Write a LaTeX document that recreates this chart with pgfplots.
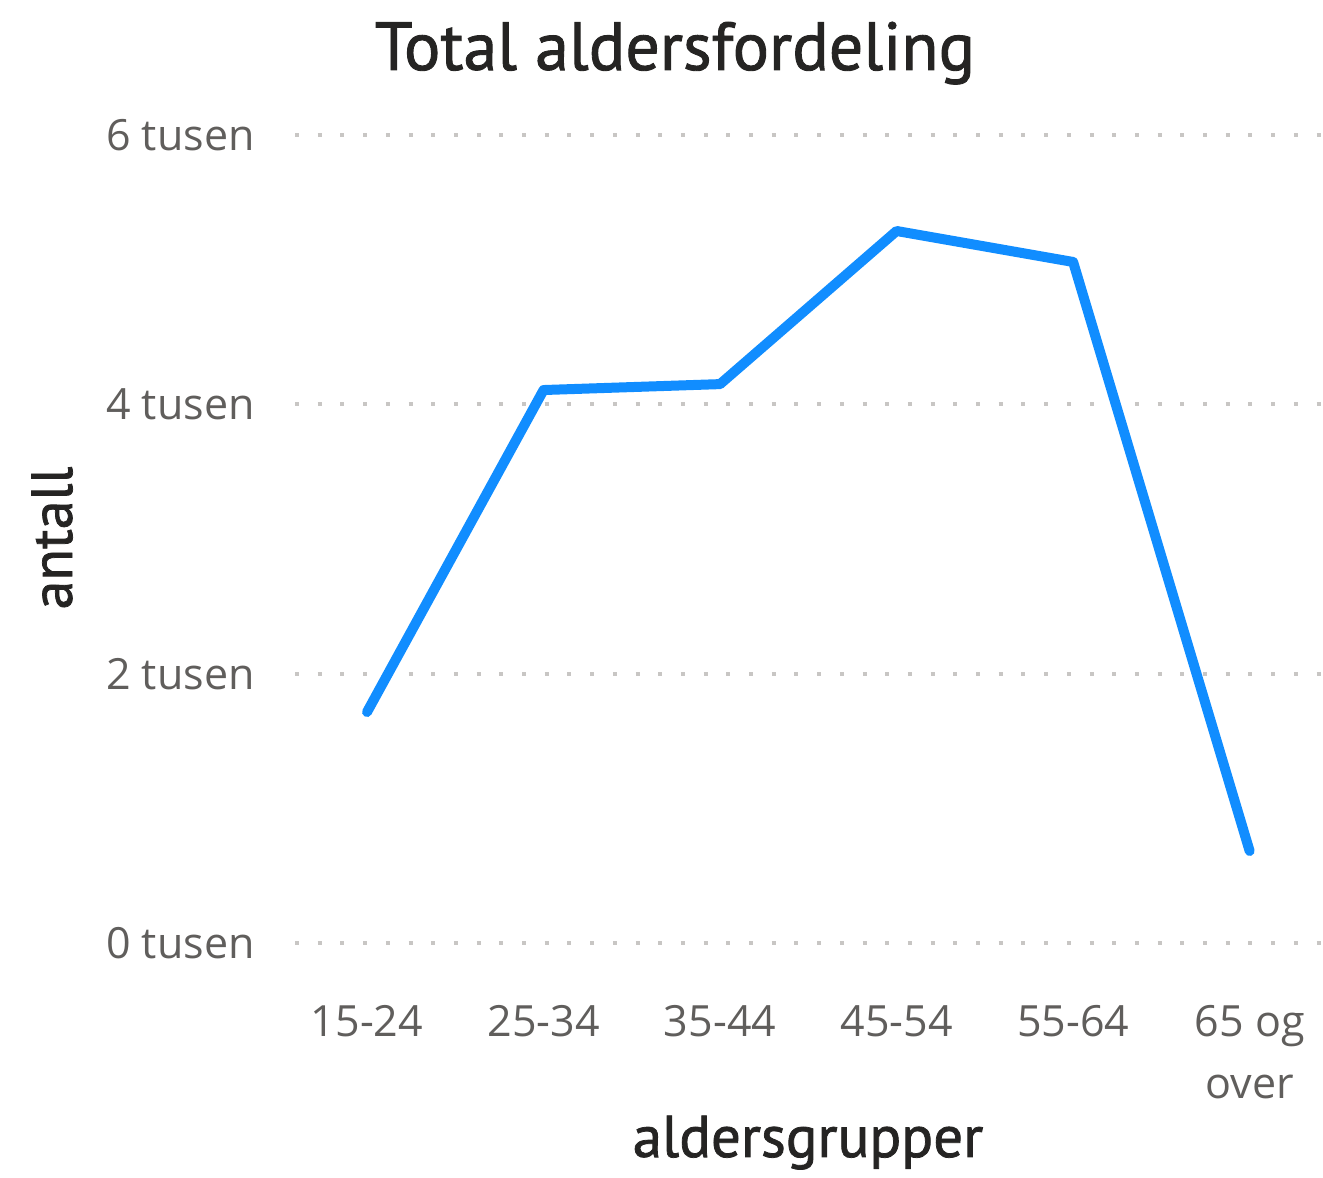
\documentclass[border=0pt]{standalone}
\usepackage{fontspec}
\setmainfont{Open Sans}
\newfontfamily\dinfont[FakeBold=1.3]{PT Sans}
\usepackage{pgfplots}
\pgfplotsset{compat=1.18}
\definecolor{pbiblue}{HTML}{118DFF}
\definecolor{ticktext}{HTML}{605E5C}
\definecolor{titletext}{HTML}{252423}
\definecolor{gridc}{HTML}{C8C6C4}
\begin{document}
\begin{tikzpicture}[x=1bp,y=1bp]
\useasboundingbox (0,0) rectangle (661.5,589);
\begin{axis}[
  at={(147.5bp,117.5bp)}, anchor=south west,
  scale only axis, width=513.5bp, height=404bp,
  xmin=-0.408, xmax=5.41, ymin=0, ymax=6000,
  axis line style={draw=none},
  major tick length=0pt,
  xtick={0,1,2,3,4,5},
  xticklabels={15-24,25-34,35-44,45-54,55-64,{65 og\\over}},
  xticklabel style={align=center, anchor=north, inner sep=0pt, yshift=-31bp,
    font=\fontsize{21.5bp}{31bp}\selectfont, text=ticktext},
  ytick={0,2000,4000,6000},
  yticklabels={0 tusen,2 tusen,4 tusen,6 tusen},
  yticklabel style={anchor=east, inner sep=0pt, xshift=-20bp,
    font=\fontsize{21.5bp}{26bp}\selectfont, text=ticktext},
  scaled y ticks=false,
  ymajorgrids,
  grid style={gridc, line width=2bp, dash pattern=on 2bp off 9.35bp, line cap=butt},
  clip=false,
]
\addplot[pbiblue, line width=5bp, line cap=round, line join=round] coordinates {
  (0,1715) (1,4106) (2,4150) (3,5287) (4,5057) (5,683)
};
\end{axis}
\node[anchor=base, text=titletext, font=\dinfont\fontsize{34bp}{40bp}\selectfont] at (337.5,554) {Total aldersfordeling};
\node[anchor=base, text=titletext, font=\dinfont\fontsize{29.5bp}{34bp}\selectfont] at (404,10.5) {aldersgrupper};
\node[anchor=base, rotate=90, text=titletext, font=\dinfont\fontsize{29bp}{34bp}\selectfont] at (36,320) {antall};
\end{tikzpicture}
\end{document}
